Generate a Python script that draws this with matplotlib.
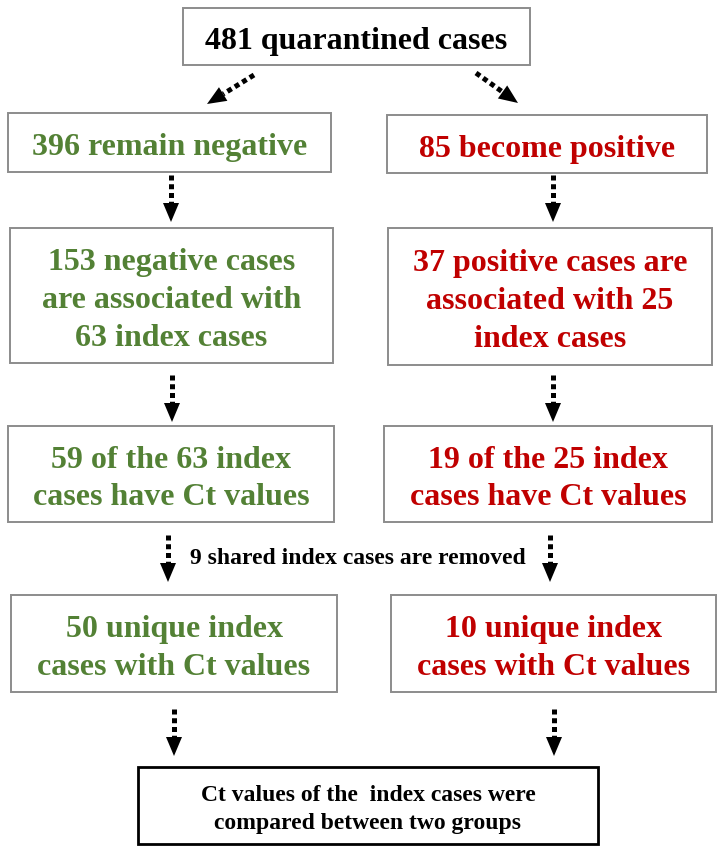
import numpy as np
import matplotlib
matplotlib.use('Agg')
import matplotlib.pyplot as plt
from matplotlib.patches import Rectangle, Polygon

# === Content === #

green = '#538135'
red = '#c00000'

top_text = '481 quarantined cases'
left_texts = ['396 remain negative',
              '153 negative cases\nare associated with\n63 index cases',
              '59 of the 63 index\ncases have Ct values',
              '50 unique index\ncases with Ct values']
right_texts = ['85 become positive',
               '37 positive cases are\nassociated with 25\nindex cases',
               '19 of the 25 index\ncases have Ct values',
               '10 unique index\ncases with Ct values']
removed_note = '9 shared index cases are removed'
bottom_text = 'Ct values of the  index cases were\ncompared between two groups'

# === Layout (pixels, origin top-left) === #

left_boxes = [(8, 113, 331, 172), (10, 228, 333, 363),
              (8, 426, 334, 522), (11, 595, 337, 692)]
right_boxes = [(387, 115, 707, 173), (388, 228, 712, 365),
               (384, 426, 712, 522), (391, 595, 716, 692)]
top_box = (183, 8, 530, 65)
bottom_box = (138, 767, 598, 844)

W, H = 718, 851
fig = plt.figure(figsize=(W / 100, H / 100), dpi=100)
ax = fig.add_axes([0, 0, 1, 1])
ax.set_xlim(0, W)
ax.set_ylim(H, 0)
ax.axis('off')

font = 'Liberation Serif'


def box(b, text, color, size, edge='#8c8c8c', lw=1.4, spacing=1.4, dy=5):
    x0, y0, x1, y1 = b
    ax.add_patch(Rectangle((x0, y0), x1 - x0, y1 - y0, fill=False,
                           edgecolor=edge, linewidth=lw))
    ax.text((x0 + x1) / 2, (y0 + y1) / 2 + dy, text, ha='center',
            va='center', color=color, fontsize=size, fontweight='bold',
            family=font, linespacing=spacing)


def arrow(x0, y0, x1, y1, head_len=19, head_w=8):
    # dotted shaft plus a solid triangle head
    d = np.array([x1 - x0, y1 - y0], dtype=float)
    d /= np.hypot(*d)
    n = np.array([-d[1], d[0]])
    base = np.array([x1, y1]) - d * head_len
    ax.plot([x0, base[0]], [y0, base[1]], color='black', lw=3.6,
            linestyle=(0, (1.0, 0.75)), solid_capstyle='butt')
    tri = [(x1, y1), tuple(base + n * head_w), tuple(base - n * head_w)]
    ax.add_patch(Polygon(tri, closed=True, color='black', lw=0))


box(top_box, top_text, 'black', 23)

for b, t in zip(left_boxes, left_texts):
    box(b, t, green, 23)
for b, t in zip(right_boxes, right_texts):
    box(b, t, red, 23)

box(bottom_box, bottom_text, 'black', 17, edge='black', lw=2.0,
    spacing=1.45, dy=4)

# arrows from the top box
arrow(254, 75, 207, 104)
arrow(476, 73, 518, 103)

# vertical arrows between the rows
left_x = [171, 172, 168, 174]
right_x = [553, 553, 550, 554]
spans = [(175, 222), (375, 422), (535, 582), (709, 756)]
for lx, rx, (ya, yb) in zip(left_x, right_x, spans):
    arrow(lx, ya, lx, yb)
    arrow(rx, ya, rx, yb)

ax.text(358, 558, removed_note, ha='center', va='center', color='black',
        fontsize=17, fontweight='bold', family=font)

fig.savefig('out.png', dpi=100)
